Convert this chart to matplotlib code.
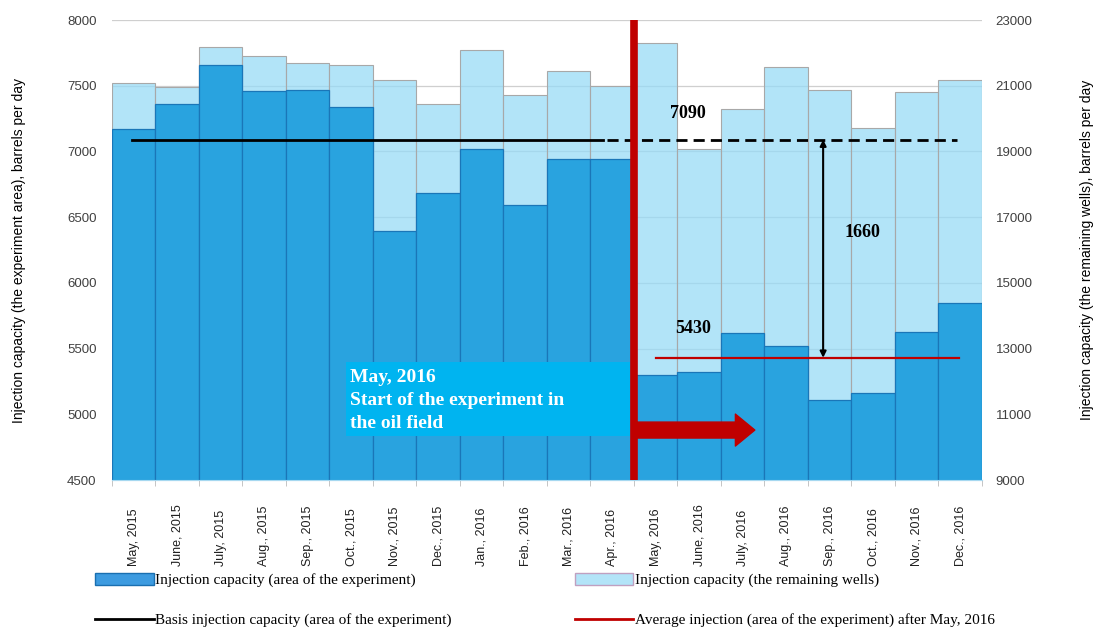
import matplotlib
matplotlib.use('Agg')
import matplotlib.pyplot as plt
import numpy as np
from matplotlib.patches import Rectangle, FancyArrowPatch, Patch
from matplotlib.lines import Line2D

# monthly data, May 2015 - Dec 2016
months = ["May, 2015", "June, 2015", "July, 2015", "Aug., 2015", "Sep., 2015",
          "Oct., 2015", "Nov., 2015", "Dec., 2015", "Jan., 2016", "Feb., 2016",
          "Mar., 2016", "Apr., 2016", "May, 2016", "June, 2016", "July, 2016",
          "Aug., 2016", "Sep., 2016", "Oct., 2016", "Nov., 2016", "Dec., 2016"]
experiment_area = [7170, 7360, 7660, 7460, 7470, 7335, 6395, 6685, 7020, 6595,
                   6940, 6940, 5300, 5320, 5615, 5520, 5110, 5165, 5625, 5845]
remaining_wells = [21090, 20970, 22170, 21900, 21680, 21630, 21170, 20450, 22090, 20730,
                   21450, 20990, 22290, 19075, 20290, 21580, 20870, 19700, 20820, 21170]
basis_level = 7090
avg_after = 5430
difference = basis_level - avg_after

SERIF = ['Liberation Serif', 'DejaVu Serif']
SANS = ['Liberation Sans', 'DejaVu Sans']
DARK = '#29A3DF'
LIGHT = (152/255, 219/255, 246/255, 0.75)
RED = '#C00000'

plt.rcParams['font.family'] = SANS

fig = plt.figure(figsize=(11.04, 6.33), dpi=100)
ax2 = fig.add_axes([0.1014, 0.2417, 0.788, 0.7267])
ax = ax2.twinx()
ax.set_zorder(ax2.get_zorder() + 1)
ax.patch.set_visible(False)

x = np.arange(len(months))

# right axis: remaining wells (behind)
ax2.bar(x, remaining_wells, width=1.0, color=LIGHT, edgecolor='#A8A8A8', linewidth=0.8)
ax2.set_ylim(9000, 23000)
ax2.set_yticks(np.arange(9000, 23001, 2000))
ax2.grid(axis='y', color='#CFCFCF', linewidth=0.9)
ax2.set_axisbelow(True)
ax2.yaxis.tick_right()
ax2.yaxis.set_label_position('right')
ax2.tick_params(axis='y', length=0, labelsize=9.5, labelcolor='#404040', pad=10)
ax2.set_ylabel('Injection capacity (the remaining wells), barrels per day',
               fontsize=10, labelpad=34)

# left axis: experiment area (front)
ax.bar(x, experiment_area, width=1.0, color=DARK, edgecolor='#1A76B8', linewidth=0.9)
ax.set_ylim(4500, 8000)
ax.set_yticks(np.arange(4500, 8001, 500))
ax.yaxis.tick_left()
ax.yaxis.set_label_position('left')
ax.tick_params(axis='y', length=0, labelsize=9.5, labelcolor='#404040', pad=11)
ax.set_ylabel('Injection capacity (the experiment area), barrels per day',
              fontsize=10, labelpad=30)

for a in (ax, ax2):
    for s in ('top', 'left', 'right'):
        a.spines[s].set_visible(False)
    a.spines['bottom'].set_color('#A6D8F0')
    a.set_xlim(-0.5, len(months) - 0.5)

ax2.set_xticks(x)
ax2.set_xticklabels(months, rotation=90, fontsize=9, va='bottom', color='#202020')
ax2.tick_params(axis='x', length=0, pad=62)
ax2.set_xticks(np.arange(-0.5, len(months), 1.0), minor=True)
ax2.tick_params(axis='x', which='minor', length=4, color='#BBBBBB')
ax.tick_params(axis='x', which='both', bottom=False, labelbottom=False)

# basis line: solid before experiment, dashed after
ax.plot([-0.05, 10.78], [basis_level, basis_level], color='black', lw=2)
ax.plot([10.88, 18.93], [basis_level, basis_level], color='black', lw=2, ls=(0, (4, 2.2)))
# average after experiment
ax.plot([12.0, 18.97], [avg_after, avg_after], color=RED, lw=1.6)

# start of experiment
ax.axvline(11.5, color=RED, lw=5.5, zorder=5)

# difference arrow
ax.annotate('', xy=(15.85, avg_after), xytext=(15.85, basis_level),
            arrowprops=dict(arrowstyle='<|-|>', color='black', lw=1.5,
                            mutation_scale=9, shrinkA=0, shrinkB=0))
ax.text(16.75, 6380, f'{difference}', fontsize=13, fontweight='bold', family=SERIF,
        ha='center', va='center')
ax.text(12.75, 7290, f'{basis_level}', fontsize=13, fontweight='bold', family=SERIF,
        ha='center', va='center')
ax.text(12.86, 5655, f'{avg_after}', fontsize=13, fontweight='bold', family=SERIF,
        ha='center', va='center')

# callout box
ax.add_patch(Rectangle((4.89, 4835), 11.4 - 4.89, 5398 - 4835, facecolor='#00B4F0',
                       edgecolor='none', zorder=4))
ax.text(4.97, 5345, 'May, 2016\nStart of the experiment in\nthe oil field', fontsize=14,
        fontweight='bold', family=SERIF, color='white', ha='left', va='top',
        linespacing=1.45, zorder=6)

# red block arrow
ax.add_patch(FancyArrowPatch((11.45, 4880), (14.28, 4880),
                             arrowstyle='simple,head_length=1.4,head_width=2.3,tail_width=1.15',
                             mutation_scale=10, color=RED, shrinkA=0, shrinkB=0, zorder=6))

handles = [Patch(facecolor='#3D9BE0', edgecolor='#1A6FB0'),
           Line2D([0], [0], color='black', lw=2),
           Patch(facecolor='#B3E4F8', edgecolor='#C0A0C0'),
           Line2D([0], [0], color=RED, lw=2)]
labels = ['Injection capacity (area of the experiment)',
          'Basis injection capacity (area of the experiment)',
          'Injection capacity (the remaining wells)',
          'Average injection (area of the experiment) after May, 2016']
fig.legend(handles, labels, loc='lower left', bbox_to_anchor=(0.074, -0.013), ncol=2,
           frameon=False, prop={'family': SERIF, 'size': 11}, handlelength=3.8,
           handleheight=0.8, handletextpad=0.1, labelspacing=1.7, columnspacing=8.1)

fig.savefig('out.png', dpi=100)
